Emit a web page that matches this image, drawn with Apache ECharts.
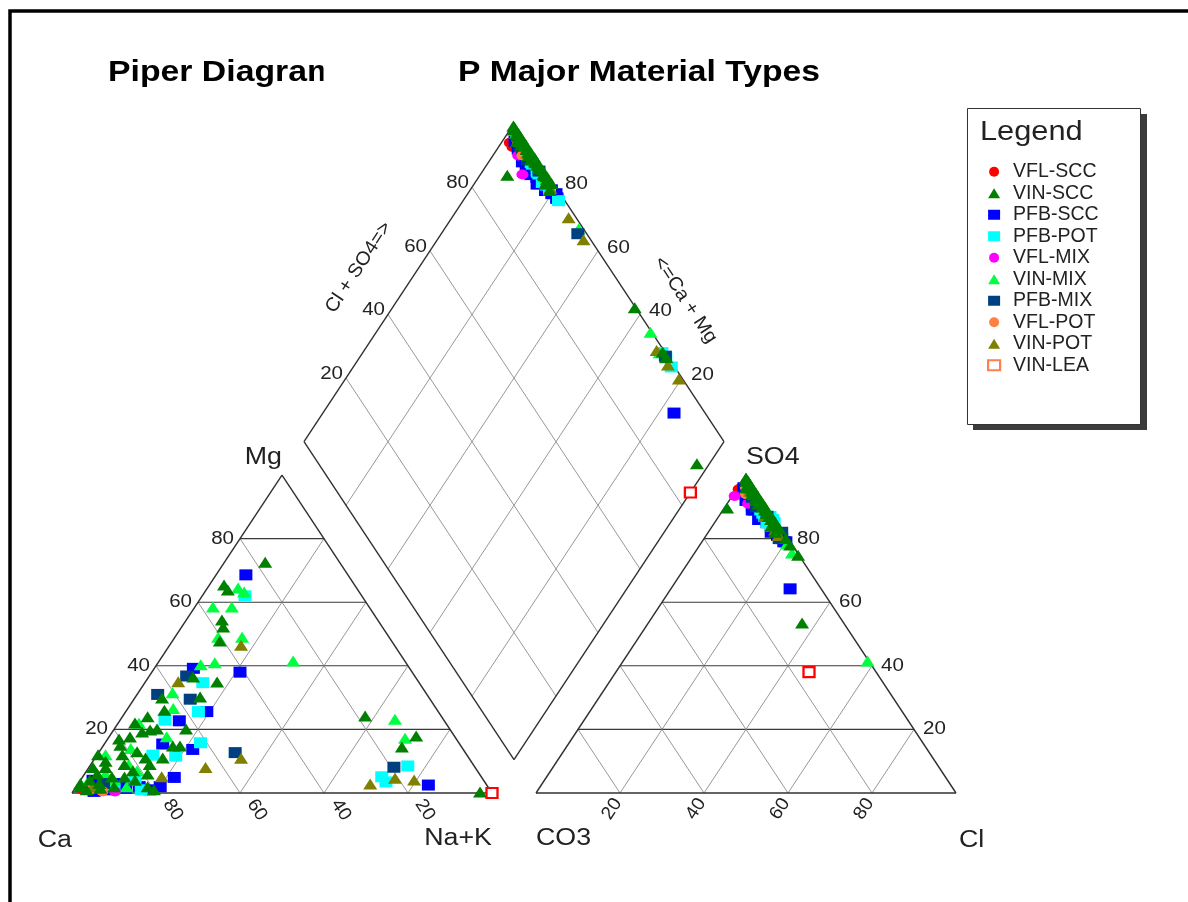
<!DOCTYPE html>
<html>
<head>
<meta charset="utf-8">
<script src="https://cdn.jsdelivr.net/npm/echarts@6/dist/echarts.min.js"></script>
<style>
  html, body { margin: 0; padding: 0; background: #fff; }
  #chart { width: 1188px; height: 902px; }
</style>
</head>
<body>
<div id="chart"></div>
<script>
// Water chemistry samples, percent of total meq/L.
// Each row: [Mg, Na+K, SO4, Cl]   (Ca = 100 - Mg - Na+K,  CO3 = 100 - SO4 - Cl)
const VFL_SCC = [
  [2, 3.3, 95.5, 0.5], [1, 2, 94, 2], [3, 5, 96, 1]
];
const VIN_SCC = [
  [72.6, 9.7, 92, 6.5], [65.4, 3.5, 96, 2], [63.8, 5.2, 94, 4.5], [54.4, 8.5, 91, 7.5],
  [52.2, 9.9, 90, 9], [47.8, 11.3, 88, 11], [36.5, 10.6, 90, 9.5], [34.9, 17.1, 85, 14.5],
  [29.9, 6.5, 89.6, 0.7], [30.2, 15.4, 86, 13], [20.1, 17.1, 84, 15], [14.8, 16.6, 85, 14],
  [14.8, 18.3, 83, 16.5], [11, 16.1, 86, 13.5], [12, 0.2, 99, 0.5], [17, 2.7, 97, 2],
  [17.6, 5, 95, 4], [19.2, 7.1, 93, 6], [19.8, 8.7, 92, 7], [20.1, 10.2, 91, 8.5],
  [22, 4, 96, 3], [24, 6, 94, 5], [26, 9, 92, 7.5],
  [24.2, 57.7, 74.8, 25], [17.9, 73, 80, 19.5], [14.5, 71.3, 78, 21.5], [0.3, 97, 53.5, 36.6],
  [4.1, 2.2, 97, 2], [2, 1, 98, 1.5], [6, 3, 96, 3], [8, 4, 95, 4], [3, 5, 94, 5],
  [5, 7, 93, 6], [10, 3, 96, 3], [9, 8, 91, 8], [7, 11, 88, 11], [4, 13, 87, 12],
  [2, 9, 91, 8], [12, 6, 93, 6], [6, 15, 86, 13], [11, 12, 88, 11], [3, 0.5, 99, 0.5],
  [1, 3, 97, 2.5], [13, 9, 90, 9], [8, 1, 98, 1], [5, 10, 89, 10], [9, 14, 87, 12.5],
  [15, 4, 95, 4.5], [1.5, 6, 94, 5.5], [1, 19, 82, 16], [2, 17, 84, 14]
];
const PFB_SCC = [
  [68.6, 7.1, 93, 5], [38, 21, 79, 20], [39.2, 9.3, 89, 7.5], [25.6, 19.3, 81, 17.5],
  [22.7, 14.2, 85, 12.5], [13.7, 21.9, 80, 18.5], [15.4, 13.9, 86, 11], [4.9, 21.9, 79, 19.5],
  [2.5, 83.6, 64.2, 28.4], [1, 8, 92, 4], [1.5, 12, 89, 7], [2, 15, 86, 10],
  [0.5, 5, 94, 3], [3, 10, 90, 6.5], [1, 18, 82, 15], [4, 3, 96, 1.5], [2, 20, 81, 17]
];
const PFB_POT = [
  [62, 10.2, 91, 7], [34.7, 13.8, 87, 11], [25.6, 17.3, 84, 14], [22.9, 10.7, 89, 9],
  [15.8, 22.7, 81, 17.5], [11.6, 18.9, 84, 14], [11.9, 13.3, 88, 10], [8.5, 75.7, 85, 14.2],
  [5.1, 71.2, 87, 12.2], [3.5, 73, 86, 13.3], [2, 9, 91, 7], [4, 13, 87, 11], [1, 16, 85, 12.5]
];
const VFL_MIX = [
  [0.5, 10, 93.4, 0.6], [1.5, 6, 91, 5]
];
const VIN_MIX = [
  [64.5, 7.3, 95, 4], [63.2, 9.4, 93, 6], [58.5, 4.3, 96, 3], [58.5, 8.8, 92, 7],
  [49, 10.3, 91, 8], [49, 16, 87, 12], [40.3, 10.5, 90, 9], [41, 13.5, 88, 11],
  [41.5, 31.9, 78.3, 20.6], [31.5, 8.2, 93, 6], [26.6, 10.8, 91, 8], [21.9, 5, 95, 4],
  [17.7, 13.7, 87, 12], [23.2, 65.3, 41.5, 58.2], [17.2, 70.7, 75.5, 23.2],
  [3, 2, 98, 1.5], [6, 5, 95, 4], [9, 9, 91, 8], [12, 2, 97, 2], [4, 8, 92, 7],
  [7, 12, 88, 11], [14, 7, 93, 6], [2, 12, 89, 10]
];
const PFB_MIX = [
  [36.8, 8.9, 90, 7.5], [31, 4.9, 94, 4], [29.5, 13.4, 87, 11.5],
  [12.7, 32.5, 80, 17.9], [8.1, 72.6, 82, 17.5], [3, 6, 93, 5]
];
const VFL_POT = [
  [1, 4, 96, 2], [0.5, 7, 94, 3]
];
const VIN_POT = [
  [46.5, 17, 87, 11], [35, 7.8, 92, 6.5], [10.9, 34.8, 81, 17.3], [8, 27.8, 84, 14.2],
  [2.8, 69.6, 82.7, 15.6], [4.6, 74.6, 84, 14.7], [4.1, 79.4, 85, 14.1], [5.1, 18.8, 87, 11.5],
  [2, 4, 95, 3.5]
];
const VIN_LEA = [
  [0, 100, 38, 46]
];

const GROUP_NAMES = ['VFL-SCC', 'VIN-SCC', 'PFB-SCC', 'PFB-POT', 'VFL-MIX',
                     'VIN-MIX', 'PFB-MIX', 'VFL-POT', 'VIN-POT', 'VIN-LEA'];
const GROUP_ROWS = [VFL_SCC, VIN_SCC, PFB_SCC, PFB_POT, VFL_MIX,
                    VIN_MIX, PFB_MIX, VFL_POT, VIN_POT, VIN_LEA];
const TICKS = [20, 40, 60, 80];

// ---- layout of the three plotting fields (in percent units) ----
const GAP = 10.48;          // space between cation and anion triangles
const SPAN = 200 + GAP;     // full width / height of the drawing area
const FONT = '"Liberation Sans", Arial, Helvetica, sans-serif';
const STRETCH = 1.14;       // horizontal text stretch
const TEXT_COLOR = '#222';

function cationPoint(mg, nak) { return [nak + mg / 2, mg]; }
function anionPoint(so4, cl) { return [100 + GAP + cl + so4 / 2, so4]; }
function diamondPoint(nak, co3) {
  return [100 + GAP / 2 + (nak - co3) / 2, 200 + GAP - (nak + co3)];
}

// ---- frame and grid segments ----
const segments = [];   // {a:[x,y], b:[x,y], kind}
function seg(a, b, kind) { segments.push({ a, b, kind }); }

[0, 100 + GAP].forEach(x0 => {
  const P = (x, y) => [x0 + x, y];
  TICKS.forEach(k => {
    seg(P(k, 0), P(k + (100 - k) / 2, 100 - k), 'minor');
    seg(P(k, 0), P(k / 2, k), 'minor');
    seg(P(k / 2, k), P(100 - k / 2, k), 'major');
  });
  seg(P(0, 0), P(100, 0), 'frame');
  seg(P(100, 0), P(50, 100), 'frame');
  seg(P(50, 100), P(0, 0), 'frame');
});
TICKS.forEach(k => {
  seg(diamondPoint(k, 0), diamondPoint(k, 100), 'minor');
  seg(diamondPoint(0, k), diamondPoint(100, k), 'minor');
});
seg(diamondPoint(0, 0), diamondPoint(100, 0), 'frame');
seg(diamondPoint(100, 0), diamondPoint(100, 100), 'frame');
seg(diamondPoint(100, 100), diamondPoint(0, 100), 'frame');
seg(diamondPoint(0, 100), diamondPoint(0, 0), 'frame');

const LINE_STYLE = {
  frame: { stroke: '#303030', lineWidth: 1.4 },
  major: { stroke: '#3a3a3a', lineWidth: 1.1 },
  minor: { stroke: '#8c8c8c', lineWidth: 0.9 }
};

// ---- text labels ----
const ANGLE = 56.6 * Math.PI / 180;
const labels = [];
function addLabel(pos, text, o) { labels.push(Object.assign({ pos, text, dx: 0, dy: 0, rot: 0, align: 'center', size: 18, stretch: STRETCH }, o)); }

TICKS.forEach(k => {
  const t = String(k);
  addLabel(cationPoint(k, 0), t, { align: 'right', dx: -6 });
  addLabel(cationPoint(0, 100 - k), t, { rot: -ANGLE, dx: 17, dy: 17, size: 18.5, stretch: 1.05 });
  addLabel(anionPoint(k, 100 - k), t, { align: 'left', dx: 9 });
  addLabel(anionPoint(0, k), t, { rot: ANGLE, dx: -8, dy: 16, size: 18.5, stretch: 1.05 });
  addLabel(diamondPoint(0, 100 - k), t, { align: 'right', dx: -3, dy: -4 });
  addLabel(diamondPoint(100 - k, 0), t, { align: 'left', dx: 9, dy: -3 });
});
addLabel(cationPoint(100, 0), 'Mg', { align: 'right', dy: -17, size: 23.5 });
addLabel(anionPoint(100, 0), 'SO4', { align: 'left', dy: -17, size: 23.5 });
addLabel(cationPoint(0, 0), 'Ca', { align: 'right', dy: 48, size: 23.5 });
addLabel(cationPoint(0, 100), 'Na+K', { align: 'right', dy: 46, size: 23.5 });
addLabel(anionPoint(0, 0), 'CO3', { align: 'left', dy: 46, size: 23.5 });
addLabel(anionPoint(0, 100), 'Cl', { align: 'left', dx: 3, dy: 48, size: 23.5 });
addLabel(diamondPoint(0, 54), 'Cl + SO4=>', { rot: ANGLE, dx: -42, dy: -28, size: 19, stretch: 1.05 });
addLabel(diamondPoint(63, 0), '<=Ca + Mg', { rot: -ANGLE, dx: 39, dy: -24, size: 19, stretch: 1.05 });

// ---- marker styles per group ----
const MARKS = {
  'VFL-SCC': { symbol: 'circle',   size: [12, 10], color: '#ff0000' },
  'VIN-SCC': { symbol: 'triangle', size: [14, 11], color: '#008000', z: 4 },
  'PFB-SCC': { symbol: 'rect',     size: [13, 11], color: '#0000ff' },
  'PFB-POT': { symbol: 'rect',     size: [13, 11], color: '#00ffff' },
  'VFL-MIX': { symbol: 'circle',   size: [12, 10], color: '#ff00ff' },
  'VIN-MIX': { symbol: 'triangle', size: [14, 11], color: '#00ff40' },
  'PFB-MIX': { symbol: 'rect',     size: [13, 11], color: '#004080' },
  'VFL-POT': { symbol: 'circle',   size: [12, 10], color: '#ff8040' },
  'VIN-POT': { symbol: 'triangle', size: [14, 11], color: '#808000' },
  'VIN-LEA': { symbol: 'rect',     size: [11, 10], color: '#ffffff', border: '#ff0000', z: 5 }
};

function samplePoints(rows) {
  const pts = [];
  rows.forEach(([mg, nak, so4, cl]) => {
    const co3 = 100 - so4 - cl;
    pts.push(cationPoint(mg, nak), anionPoint(so4, cl), diamondPoint(nak, co3));
  });
  return pts;
}

const sampleSeries = GROUP_NAMES.map((name, i) => {
  const m = MARKS[name];
  return {
    name,
    type: 'scatter',
    data: samplePoints(GROUP_ROWS[i]),
    symbol: m.symbol,
    symbolSize: m.size,
    z: m.z || 3,
    itemStyle: m.border
      ? { color: m.color, borderColor: m.border, borderWidth: 2.2, opacity: 1 }
      : { color: m.color, opacity: 1 },
    emphasis: { disabled: true },
    silent: true
  };
});

const chart = echarts.init(document.getElementById('chart'));
chart.setOption({
  animation: false,
  backgroundColor: '#ffffff',
  grid: { left: 72, top: 123.7, width: 884, height: 669.3, show: false },
  xAxis: { type: 'value', min: 0, max: SPAN, show: false },
  yAxis: { type: 'value', min: 0, max: SPAN, show: false },
  legend: {
    orient: 'vertical',
    left: 982,
    top: 156,
    itemWidth: 12,
    itemHeight: 10,
    itemGap: 0,
    selectedMode: false,
    textStyle: { fontFamily: FONT, fontSize: 19.5, color: TEXT_COLOR, lineHeight: 21.5, padding: [0, 0, 0, 8] },
    data: GROUP_NAMES.map(n => n === 'VIN-LEA'
      ? { name: n, itemStyle: { color: '#ffffff', borderColor: '#ff7f50', borderWidth: 2.2 } }
      : { name: n })
  },
  graphic: [
    { type: 'rect', shape: { x: 10, y: 11, width: 1300, height: 1000 },
      style: { fill: 'none', stroke: '#000', lineWidth: 3.5 }, z: 0, silent: true },
    { type: 'rect', shape: { x: 973, y: 114, width: 174, height: 316 },
      style: { fill: '#3c3c3c' }, z: 0, silent: true },
    { type: 'rect', shape: { x: 967.5, y: 108.5, width: 173, height: 316 },
      style: { fill: '#fff', stroke: '#333', lineWidth: 1 }, z: 1, silent: true },
    { type: 'text', x: 980, y: 133, scaleX: STRETCH, z: 2, silent: true,
      style: { text: 'Legend', font: '27px ' + FONT, fill: TEXT_COLOR,
               textVerticalAlign: 'middle', verticalAlign: 'middle' } },
    { type: 'text', x: 108, y: 73, scaleX: 1.145, z: 2, silent: true,
      style: { text: 'Piper Diagram', font: 'bold 29.5px ' + FONT, fill: '#000',
               textVerticalAlign: 'middle', verticalAlign: 'middle' } },
    { type: 'rect', shape: { x: 323.5, y: 50, width: 130, height: 45 },
      style: { fill: '#fff' }, z: 3, silent: true },
    { type: 'text', x: 458, y: 73, scaleX: STRETCH, z: 4, silent: true,
      style: { text: 'P Major Material Types', font: 'bold 29.5px ' + FONT, fill: '#000',
               textVerticalAlign: 'middle', verticalAlign: 'middle' } }
  ],
  series: [
    {
      type: 'custom',
      name: 'grid lines',
      silent: true,
      z: 1,
      data: segments.map(s => [s.a[0], s.a[1], s.b[0], s.b[1]]),
      encode: { x: [0, 2], y: [1, 3] },
      renderItem(params, api) {
        const s = segments[params.dataIndex];
        const p1 = api.coord([api.value(0), api.value(1)]);
        const p2 = api.coord([api.value(2), api.value(3)]);
        return {
          type: 'line',
          shape: { x1: p1[0], y1: p1[1], x2: p2[0], y2: p2[1] },
          style: Object.assign({}, LINE_STYLE[s.kind])
        };
      }
    },
    ...sampleSeries,
    {
      type: 'custom',
      name: 'labels',
      silent: true,
      z: 6,
      data: labels.map(l => [l.pos[0], l.pos[1]]),
      encode: { x: 0, y: 1 },
      renderItem(params, api) {
        const l = labels[params.dataIndex];
        const p = api.coord([api.value(0), api.value(1)]);
        return {
          type: 'text',
          x: p[0] + l.dx,
          y: p[1] + l.dy,
          rotation: l.rot,
          scaleX: l.stretch,
          style: {
            text: l.text,
            font: l.size + 'px ' + FONT,
            fill: TEXT_COLOR,
            textAlign: l.align, align: l.align,
            textVerticalAlign: 'middle', verticalAlign: 'middle'
          }
        };
      }
    }
  ]
});
</script>
</body>
</html>
